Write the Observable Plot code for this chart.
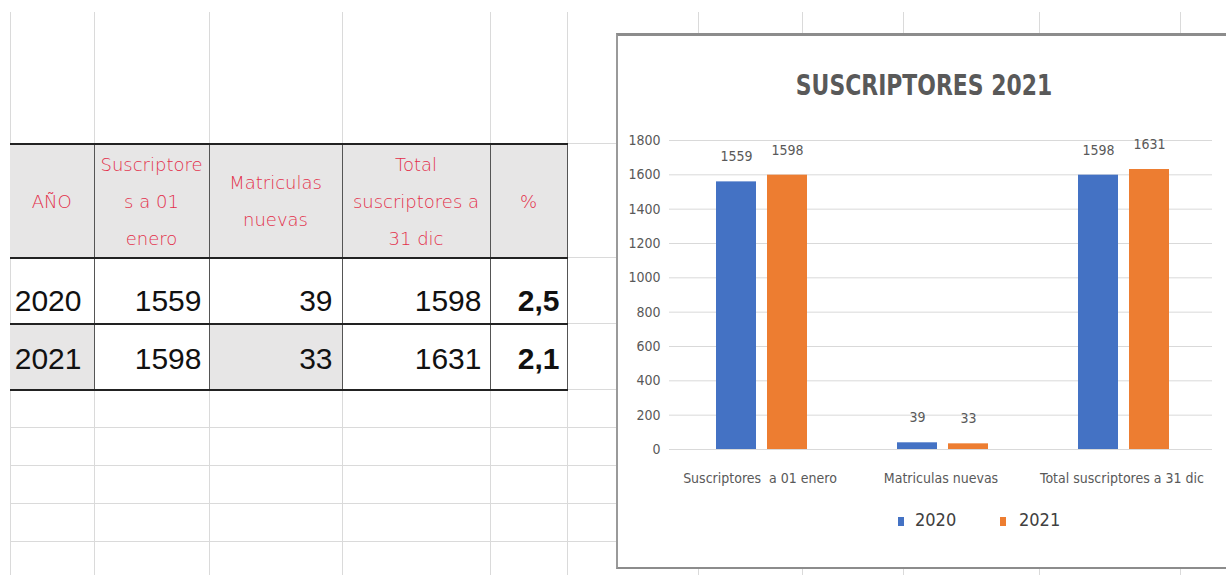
<!DOCTYPE html>
<html>
<head>
<meta charset="utf-8">
<script src="https://cdn.jsdelivr.net/npm/d3@7"></script>
<script src="https://cdn.jsdelivr.net/npm/@observablehq/plot@0.6"></script>
<style>
  html, body { margin: 0; padding: 0; background: #fff; }
  body { width: 1226px; height: 575px; position: relative; overflow: hidden; }
  .vline { position: absolute; width: 1px; background: #dadada; }
  .hline { position: absolute; height: 1px; background: #dadada; }
  table.sheet { position: absolute; left: 10px; top: 143px; border-collapse: collapse; table-layout: fixed; }
  table.sheet td, table.sheet th { padding: 0; overflow: visible; white-space: nowrap; box-sizing: border-box; }
  table.sheet th {
    height: 114px; background: #e7e6e6; color: #e3304b;
    font-family: "DejaVu Sans", sans-serif; font-weight: 200; font-size: 18px; line-height: 37px;
    text-align: center; vertical-align: middle;
    border-top: 2px solid #222; border-bottom: 2px solid #222; border-left: 1px solid #555; border-right: 1px solid #555;
  }
  table.sheet td {
    height: 66px; font-family: "Liberation Sans", Arial, sans-serif; font-size: 30px; color: #111; line-height: 30px;
    text-align: right; padding-right: 7px; vertical-align: middle;
    border-bottom: 2px solid #222; border-left: 1px solid #555; border-right: 1px solid #555;
  }
  table.sheet td span { position: relative; }
  table.sheet th:first-child, table.sheet td:first-child { border-left: none; }
  table.sheet td.pct { font-weight: bold; }
  table.sheet td.gray { background: #e7e6e6; }
  #chartbox { position: absolute; left: 616px; top: 33px; width: 640px; height: 531px; background: #fff;
    border-top: 3px solid #8c8c8c; border-left: 2px solid #9a9a9a; border-bottom: 2px solid #8c8c8c; }
  #title { position: absolute; left: 616px; width: 616px; top: 68px; text-align: center;
    font-family: "Liberation Sans Narrow", "DejaVu Sans Condensed", sans-serif; font-weight: bold; font-size: 29px; color: #595959;
    transform: scaleX(0.84); transform-origin: 308px 0; }
  #plot { position: absolute; left: 616px; top: 120px; }
  .leg { position: absolute; font-family: "Liberation Sans Narrow", "DejaVu Sans Condensed", sans-serif; font-size: 18px; color: #404040; }
  .sw { position: absolute; width: 6px; height: 9px; }
</style>
</head>
<body>
<div id="grid"></div>
<table class="sheet" id="sheet"></table>
<div id="chartbox"></div>
<div id="title"></div>
<div id="plot"></div>
<div id="legend"></div>
<script>
// ---- chart data ----
const chartTitle = "SUSCRIPTORES 2021";
const categories = ["Suscriptores  a 01 enero", "Matriculas nuevas", "Total suscriptores a 31 dic"];
const years = ["2020", "2021"];
const values2020 = [1559, 39, 1598];
const values2021 = [1598, 33, 1631];
const yTicks = [0, 200, 400, 600, 800, 1000, 1200, 1400, 1600, 1800];
const seriesColors = ["#4472c4", "#ed7d31"];

// ---- table data ----
const tableHeaders = ["AÑO", "Suscriptore<br>s  a 01<br>enero", "Matriculas<br>nuevas", "Total<br>suscriptores a<br>31 dic", "%"];
const tableYears = ["2020", "2021"];
const tableSuscriptores01 = [1559, 1598];
const tableMatriculas = [39, 33];
const tableTotal31 = [1598, 1631];
const tablePct = ["2,5", "2,1"];

// ---- spreadsheet background grid ----
const colEdges = [10, 94, 209, 342, 490, 567, 698, 802, 903, 1039, 1180];
const rowEdges = [143, 257, 323, 389, 427, 465, 503, 541];
const grid = document.getElementById("grid");
colEdges.forEach(x => {
  const d = document.createElement("div");
  d.className = "vline"; d.style.left = x + "px"; d.style.top = "12px"; d.style.height = "563px";
  grid.appendChild(d);
});
rowEdges.forEach(y => {
  const d = document.createElement("div");
  d.className = "hline"; d.style.left = "10px"; d.style.top = y + "px"; d.style.width = "610px";
  grid.appendChild(d);
});

// ---- table ----
const colWidths = [84, 115, 133, 148, 77];
const sheet = document.getElementById("sheet");
let html = "<colgroup>" + colWidths.map(w => `<col style="width:${w}px">`).join("") + "</colgroup>";
html += "<tr>" + tableHeaders.map(h => `<th>${h}</th>`).join("") + "</tr>";
tableYears.forEach((y, i) => {
  const off = i === 0 ? 10 : 2;
  const g = i === 1;
  const sp = v => `<span style="top:${off}px">${v}</span>`;
  html += "<tr>" +
    `<td class="${g ? "gray" : ""}" style="padding-right:12px">${sp(y)}</td>` +
    `<td>${sp(tableSuscriptores01[i])}</td>` +
    `<td class="${g ? "gray" : ""}" style="padding-right:9px">${sp(tableMatriculas[i])}</td>` +
    `<td style="padding-right:8px">${sp(tableTotal31[i])}</td>` +
    `<td class="pct">${sp(tablePct[i])}</td>` +
    "</tr>";
});
sheet.innerHTML = html;

// ---- chart ----
document.getElementById("title").textContent = chartTitle;
const data = categories.flatMap((c, i) => [
  {cat: c, year: years[0], value: values2020[i]},
  {cat: c, year: years[1], value: values2021[i]}
]);

const chart = Plot.plot({
  width: 610,
  height: 375,
  marginLeft: 52,
  marginRight: 13,
  marginTop: 20,
  marginBottom: 46,
  style: {
    fontFamily: "'Liberation Sans Narrow', 'DejaVu Sans Condensed', sans-serif",
    fontSize: "14px",
    color: "#595959",
    background: "transparent",
    overflow: "visible"
  },
  fx: {domain: categories, padding: 0, axis: "bottom", tickSize: 0, tickPadding: 24, label: null},
  x: {domain: years, paddingInner: 0.2115, paddingOuter: 0.853, align: 0.52, axis: null},
  y: {domain: [0, 1800], ticks: yTicks, tickSize: 0, tickPadding: 9, tickFormat: d => String(d), label: null},
  color: {domain: years, range: seriesColors},
  marks: [
    Plot.ruleY(yTicks, {stroke: "#d9d9d9", strokeWidth: 1}),
    Plot.barY(data, {fx: "cat", x: "year", y: "value", fill: "year"}),
    Plot.text(data, {fx: "cat", x: "year", y: "value", text: d => String(d.value), dy: -25, fill: "#595959", fontSize: 14})
  ]
});
document.getElementById("plot").appendChild(chart);

// ---- legend ----
const legend = document.getElementById("legend");
const legendPos = [{sw: 898, tx: 915}, {sw: 1000, tx: 1019}];
years.forEach((y, i) => {
  const s = document.createElement("div");
  s.className = "sw"; s.style.left = legendPos[i].sw + "px"; s.style.top = "517px"; s.style.background = seriesColors[i];
  legend.appendChild(s);
  const t = document.createElement("div");
  t.className = "leg"; t.style.left = legendPos[i].tx + "px"; t.style.top = "509px"; t.textContent = y;
  legend.appendChild(t);
});
</script>
</body>
</html>
